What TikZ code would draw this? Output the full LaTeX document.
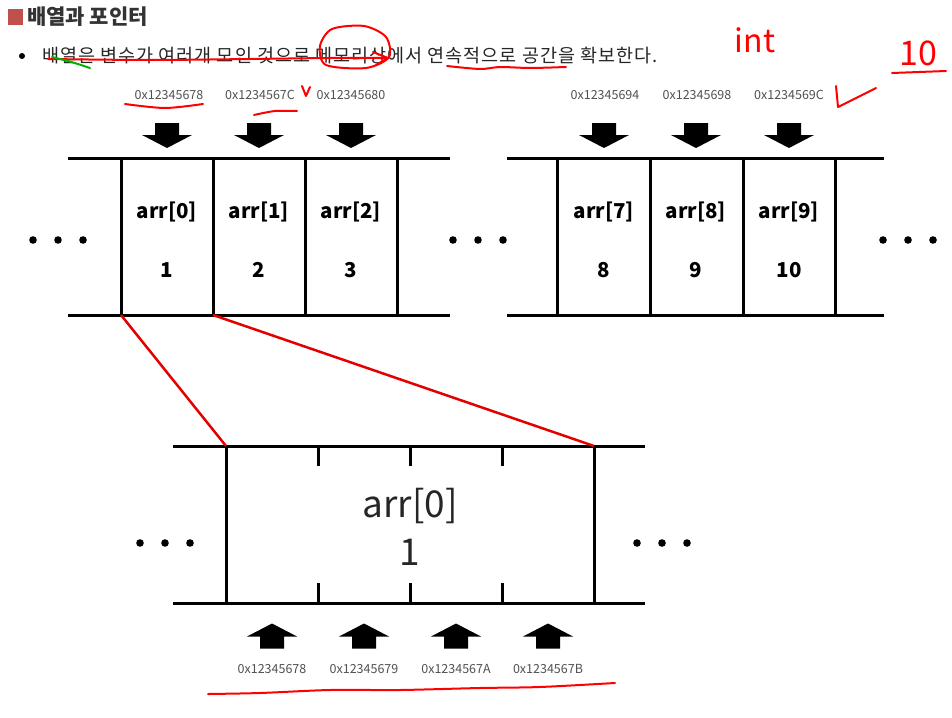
\documentclass[tikz,border=0pt]{standalone}
\usepackage{fontspec}
\setmainfont{Noto Sans CJK KR}
\usetikzlibrary{positioning}

\definecolor{titlered}{RGB}{192,80,77}
\definecolor{addrgray}{RGB}{80,80,80}

\tikzset{
  memline/.style={line width=3pt},
  zoomline/.style={red!90!black, line width=2.5pt},
  redpen/.style={red, line width=2pt, line cap=round, line join=round},
  addr/.style={font=\fontsize{12.5}{12.5}\selectfont, text=addrgray},
  cell/.style={font=\fontsize{20.5}{20.5}\selectfont\bfseries},
  bigcell/.style={font=\fontsize{37}{37}\selectfont, text=black!85},
  blockarrow/.pic={\fill (-12,-12.5) -- (12,-12.5) -- (12,-0.5) -- (25,-0.5) -- (0,12.5) -- (-25,-0.5) -- (-12,-0.5) -- cycle;}
}

\begin{document}
\begin{tikzpicture}[x=1pt,y=-1pt]
    \useasboundingbox (0,0) rectangle (952,717);

    % heading
    \fill [titlered] (8,9) rectangle (23,25);
    \node [anchor=west, inner sep=0pt, font=\fontsize{21}{21}\selectfont\bfseries, text=black!80] (title) at (27,17) {배열과 포인터};
    \fill (22,56) circle (3);
    \node [anchor=west, inner sep=0pt, font=\fontsize{18.5}{18.5}\selectfont\addfontfeature{LetterSpace=5.5}, text=black!85] (bullet) at (42,56) {배열은 변수가 여러개 모인 것으로 메모리상에서 연속적으로 공간을 확보한다.};

    % top left block
    \draw [memline] (68,158)--(450,158); \draw [memline] (68,315)--(450,315);
    \foreach \x in {121,213,305,397} \draw [memline] (\x,158)--(\x,315);
    \foreach \x in {33,58,83} \fill (\x,240) circle (3.8);
    \foreach \x in {453,478,503} \fill (\x,240) circle (3.8);
    \node [cell] (a0) at (167,212) {arr[0]}; \node [cell] (v0) at (167,270) {1};
    \node [cell] (a1) at (259,212) {arr[1]}; \node [cell] (v1) at (259,270) {2};
    \node [cell] (a2) at (351,212) {arr[2]}; \node [cell] (v2) at (351,270) {3};
    \node [addr] (p0) at (169,95) {0x12345678};
    \node [addr] (p1) at (260,95) {0x1234567C};
    \node [addr] (p2) at (351,95) {0x12345680};
    \foreach \x in {167,259,351} \pic at (\x,135.5) {blockarrow};

    % top right block
    \draw [memline] (507,158)--(884,158); \draw [memline] (507,315)--(884,315);
    \foreach \x in {557,650,743,835} \draw [memline] (\x,158)--(\x,315);
    \foreach \x in {883,908,933} \fill (\x,240) circle (3.8);
    \node [cell] (a7) at (604,212) {arr[7]}; \node [cell] (v7) at (604,270) {8};
    \node [cell] (a8) at (696,212) {arr[8]}; \node [cell] (v8) at (696,270) {9};
    \node [cell] (a9) at (789,212) {arr[9]}; \node [cell] (v9) at (789,270) {10};
    \node [addr] (p7) at (605,95) {0x12345694};
    \node [addr] (p8) at (697,95) {0x12345698};
    \node [addr] (p9) at (789,95) {0x1234569C};
    \foreach \x in {604,696,789} \pic at (\x,135.5) {blockarrow};

    % zoomed element
    \draw [memline] (173,446)--(645,446); \draw [memline] (173,603)--(645,603);
    \draw [memline] (226,446)--(226,603); \draw [memline] (594,446)--(594,603);
    \foreach \x in {318,410,502} {\draw [memline] (\x,446)--(\x,466); \draw [memline] (\x,583)--(\x,603);}
    \foreach \x in {140,165,190} \fill (\x,543) circle (3.8);
    \foreach \x in {637,662,687} \fill (\x,543) circle (3.8);
    \node [bigcell] (b0) at (410,506) {arr[0]};
    \node [bigcell] (bv) at (410,552) {1};
    \foreach \x/\lbl [count=\i] in {272/0x12345678,364/0x12345679,456/0x1234567A,548/0x1234567B} {
      \pic [yscale=-1] at (\x,636) {blockarrow};
      \node [addr] (q\i) at (\x,669) {\lbl};
    }

    % zoom lines
    \coordinate (t0) at (121,315); \coordinate (t1) at (213,315);
    \coordinate (z0) at (226,446); \coordinate (z1) at (594,446);
    \draw [zoomline] (t0)--(z0); \draw [zoomline] (t1)--(z1);

    % pen marks
    \draw [redpen] plot [smooth] coordinates {(48,59) (150,60) (250,59) (330,58) (386,58)};
    \draw [redpen] (373,52)--(388,58)--(376,65);
    \draw [redpen] plot [smooth cycle] coordinates {(320,46) (332,29) (364,26) (386,37) (389,57) (366,68) (326,65)};
    \draw [green!70!black, line width=2pt, line cap=round] (52,57) .. controls (72,62) .. (90,68);
    \draw [redpen] plot [smooth] coordinates {(447,66) (480,69) (500,67) (530,68) (566,67)};
    \draw [redpen] plot [smooth] coordinates {(125,104) (165,108) (203,104)};
    \draw [redpen] plot [smooth] coordinates {(254,115) (275,111) (297,111)};
    \draw [redpen] (302,86)--(306,96)--(310,87);
    \node [red, font=\fontsize{32}{32}\selectfont\itshape] (int) at (755,40) {int};
    \node [red, font=\fontsize{34}{34}\selectfont] (ten) at (918,53) {10};
    \draw [redpen] (892,73)--(946,71);
    \draw [redpen] (836,86)--(838,107)--(876,88);
    \draw [redpen] plot [smooth] coordinates {(208,694) (260,693) (330,690) (400,690) (480,688) (540,687) (615,683)};
\end{tikzpicture}
\end{document}
